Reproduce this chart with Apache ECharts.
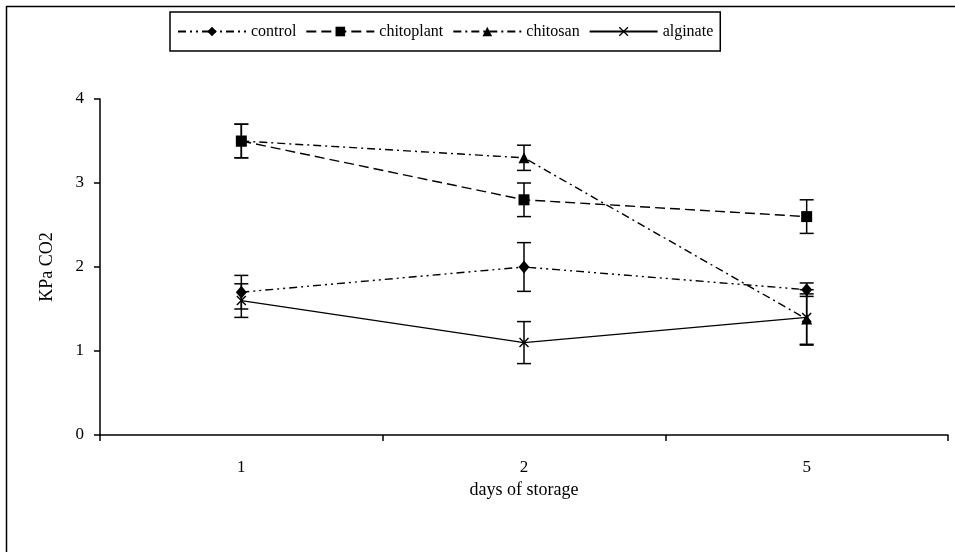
<!DOCTYPE html>
<html><head><meta charset="utf-8">
<script src="https://cdn.jsdelivr.net/npm/echarts@6/dist/echarts.min.js"></script>
<style>html,body{margin:0;padding:0;background:#fff}#c{width:955px;height:552px}</style>
</head><body><div id="c"></div>
<script>
const categories = ['1', '2', '5'];
const yTicks = [0, 1, 2, 3, 4];
const seriesNames = ['control', 'chitoplant', 'chitosan', 'alginate'];
const control = [1.7, 2.0, 1.73];
const controlErr = [0.2, 0.29, 0.08];
const chitoplant = [3.5, 2.8, 2.6];
const chitoplantErr = [0.2, 0.2, 0.2];
const chitosan = [3.5, 3.3, 1.38];
const chitosanErr = [0.2, 0.15, 0.3];
const alginate = [1.6, 1.1, 1.4];
const alginateErr = [0.2, 0.25, 0.33];

const FONT = 'Liberation Serif';
const values = [control, chitoplant, chitosan, alginate];
const errs = [controlErr, chitoplantErr, chitosanErr, alginateErr];
const dashes = [[8, 4, 2, 4, 2, 4], [10, 5], [8, 4, 2, 4], 'solid'];
const crossPath = 'path://M0,1L1,0L5,4L9,0L10,1L6,5L10,9L9,10L5,6L1,10L0,9L4,5Z';
const symbols = ['diamond', 'rect', 'triangle', crossPath];
const symSizes = [[11, 13], 11, 11, 10];

const lineSeries = seriesNames.map((n, i) => ({
  name: n, type: 'line', data: values[i],
  symbol: symbols[i], symbolSize: symSizes[i],
  lineStyle: { color: '#000', width: 1.4, type: dashes[i] },
  itemStyle: { color: '#000', borderColor: '#000', borderWidth: 0 },
  z: 3, animation: false
}));

const errData = [];
values.forEach((v, i) => v.forEach((y, j) => errData.push([j, y - errs[i][j], y + errs[i][j]])));

const errSeries = {
  type: 'custom', name: 'err', z: 2, animation: false,
  data: errData,
  renderItem: function (params, api) {
    const x = api.value(0);
    const lo = api.coord([x, api.value(1)]);
    const hi = api.coord([x, api.value(2)]);
    const w = 7;
    const st = { stroke: '#000', lineWidth: 1.5 };
    return { type: 'group', children: [
      { type: 'line', shape: { x1: lo[0], y1: lo[1], x2: hi[0], y2: hi[1] }, style: st },
      { type: 'line', shape: { x1: lo[0] - w, y1: lo[1], x2: lo[0] + w, y2: lo[1] }, style: st },
      { type: 'line', shape: { x1: hi[0] - w, y1: hi[1], x2: hi[0] + w, y2: hi[1] }, style: st }
    ]};
  }
};

const chart = echarts.init(document.getElementById('c'), null, { renderer: 'canvas' });
chart.setOption({
  backgroundColor: '#fff',
  animation: false,
  graphic: [{ type: 'rect', left: 4, top: 4, shape: { width: 1000, height: 600 },
    style: { fill: 'none', stroke: '#000', lineWidth: 1.5 } }],
  legend: {
    data: seriesNames, left: 170, top: 12,
    padding: [11, 7, 11, 7], borderColor: '#000', borderWidth: 1.5,
    itemWidth: 68, itemHeight: 12, itemGap: 9,
    textStyle: { fontFamily: FONT, fontSize: 16, color: '#000', lineHeight: 17 }
  },
  grid: { left: 100, right: 7, top: 99, bottom: 117 },
  xAxis: {
    type: 'category', data: categories,
    name: 'days of storage', nameLocation: 'middle', nameGap: 46,
    nameTextStyle: { fontFamily: FONT, fontSize: 18, color: '#000' },
    axisLine: { lineStyle: { color: '#000', width: 1.5 } },
    axisTick: { show: true, length: 6, lineStyle: { color: '#000', width: 1.5 } },
    axisLabel: { fontFamily: FONT, fontSize: 17, color: '#000', margin: 24 }
  },
  yAxis: {
    type: 'value', min: yTicks[0], max: yTicks[yTicks.length - 1], interval: 1,
    name: 'KPa CO2', nameLocation: 'middle', nameGap: 44,
    nameTextStyle: { fontFamily: FONT, fontSize: 18, color: '#000' },
    axisLine: { show: true, lineStyle: { color: '#000', width: 1.5 } },
    axisTick: { show: true, length: 6, lineStyle: { color: '#000', width: 1.5 } },
    axisLabel: { fontFamily: FONT, fontSize: 17, color: '#000', margin: 16 },
    splitLine: { show: false }
  },
  series: [errSeries].concat(lineSeries)
});
</script></body></html>
